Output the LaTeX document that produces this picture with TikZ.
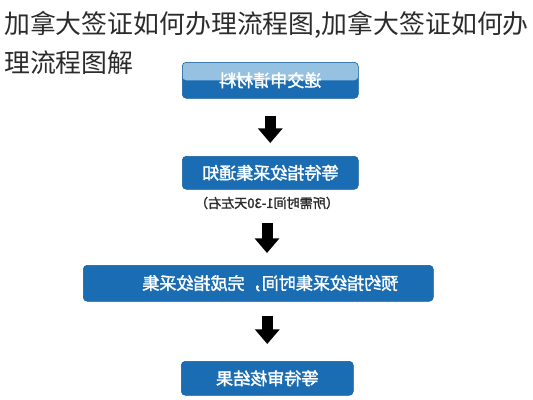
\documentclass[tikz,border=0pt]{standalone}
\usepackage{fontspec}
\usepackage{graphicx}
\usetikzlibrary{arrows.meta}
\newfontfamily\cjk{Noto Sans CJK SC}
\newfontfamily\cjkbold{Noto Sans CJK SC}[FakeBold=1.8]
\definecolor{boxblue}{HTML}{1B6DB3}
\definecolor{paleblue}{HTML}{96C1E1}
\definecolor{titlegray}{HTML}{2B2B2B}
\tikzset{
  StepBox/.style = { rectangle, rounded corners=3pt, draw=boxblue!85!black,
                     fill=boxblue, text=white, inner sep=0pt, anchor=north west,
                     font = \cjkbold\fontsize{12.8}{14}\selectfont },
  TitleLine/.style = { anchor=base west, inner sep=0pt, text=titlegray,
                       font=\cjk\fontsize{19.4}{22}\selectfont },
  DownArrow/.style = { line width=8.25pt, -{Triangle[width=18pt,length=11pt]} } }

\begin{document}
\begin{tikzpicture}[x=0.75pt,y=-0.75pt]
  \useasboundingbox (0,0) rectangle (533,400);
  \tikzstyle{NoteStyle}=[inner sep=0pt, text=titlegray,
                         font=\cjkbold\fontsize{9.8}{11}\selectfont]
  % title
  \node[TitleLine] (title) at (4,33) {加拿大签证如何办理流程图,加拿大签证如何办};
  \node[TitleLine] (title2) at (4,72) {理流程图解};

  % steps
  \node[StepBox, minimum width=132pt, minimum height=27pt,
        path picture={\fill[paleblue] (path picture bounding box.north west)
                      rectangle (path picture bounding box.east);}]
        (submit) at (182,62) {\reflectbox{递交申请材料}};
  \node[StepBox, minimum width=132pt, minimum height=24.75pt]
        (notice) at (182,156) {\reflectbox{等待指纹采集通知}};
  \node[NoteStyle] (note) at (267,203) {\reflectbox{（所需时间1-30天左右）}};
  \node[StepBox, minimum width=262.5pt, minimum height=27pt]
        (book) at (83,265) {\hspace{18pt}\reflectbox{预约指纹采集时间，完成指纹采集}};
  \node[StepBox, minimum width=129pt, minimum height=25.5pt]
        (result) at (181,361) {\reflectbox{等待审核结果}};

  % arrows
  \draw[DownArrow, shorten <=12.75pt, shorten >=9.75pt] (submit) -- (notice);
  \draw[DownArrow, shorten <=10.5pt, shorten >=9pt] (note.south) -- (note.south |- book.north);
  \draw[DownArrow, shorten <=10.5pt, shorten >=12.75pt] (result.north |- book.south) -- (result.north);
\end{tikzpicture}
\end{document}
